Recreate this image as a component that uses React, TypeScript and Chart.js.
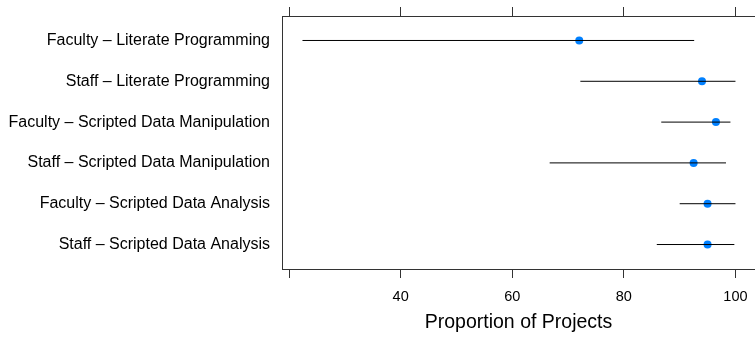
import React, { useEffect, useRef } from "react";
import { Chart, registerables } from "chart.js";

Chart.register(...registerables);

const categories = [
  "Faculty – Literate Programming",
  "Staff – Literate Programming",
  "Faculty – Scripted Data Manipulation",
  "Staff – Scripted Data Manipulation",
  "Faculty – Scripted Data Analysis",
  "Staff – Scripted Data Analysis",
];
const estimates = [72.0, 94.0, 96.5, 92.5, 95.0, 95.0];
const lowerBounds = [22.4, 72.2, 86.7, 66.7, 90.0, 85.9];
const upperBounds = [92.6, 100.0, 99.1, 98.3, 100.0, 99.8];
const xTicks = [20, 40, 60, 80, 100];
const xLabelledTicks = [40, 60, 80, 100];
const xTitle = "Proportion of Projects";

const FONT = "'Liberation Sans', Arial, Helvetica, sans-serif";
const AXIS = "#333333";

export default function App() {
  const ref = useRef<HTMLCanvasElement | null>(null);

  useEffect(() => {
    if (!ref.current) return;
    const intervalSets = categories.map((c, i) => ({
      type: "line" as const,
      label: c,
      data: [
        { x: lowerBounds[i], y: i + 1 },
        { x: upperBounds[i], y: i + 1 },
      ],
      showLine: true,
      borderColor: "#000000",
      borderWidth: 1,
      pointRadius: 0,
      fill: false,
      xAxisID: "x",
      yAxisID: "y",
    }));
    const pointSet = {
      type: "scatter" as const,
      label: "estimate",
      data: estimates.map((v, i) => ({ x: v, y: i + 1 })),
      pointRadius: 4,
      pointBackgroundColor: "#0080ff",
      pointBorderColor: "#0080ff",
      pointBorderWidth: 0,
      xAxisID: "x",
      yAxisID: "y",
    };

    const noPad = (s: any) => {
      s.paddingLeft = 0;
      s.paddingRight = 0;
      s.paddingTop = 0;
      s.paddingBottom = 0;
    };

    const chart = new Chart(ref.current, {
      type: "scatter",
      data: { datasets: [...intervalSets, pointSet] as any },
      options: {
        animation: false,
        responsive: false,
        maintainAspectRatio: false,
        layout: { padding: 0, autoPadding: false },
        plugins: {
          legend: { display: false },
          tooltip: { enabled: false },
        },
        font: { family: FONT },
        scales: {
          x: {
            type: "linear",
            position: "bottom",
            min: 18.73,
            max: 103.5,
            afterBuildTicks: (s: any) => {
              s.ticks = xTicks.map((v) => ({ value: v }));
            },
            afterFit: (s: any) => {
              s.height = 68;
              noPad(s);
            },
            ticks: {
              color: "#000",
              font: { family: FONT, size: 14.5 },
              padding: 10,
              maxRotation: 0,
              autoSkip: false,
              callback: (v: any) => (xLabelledTicks.includes(Number(v)) ? String(v) : ""),
            },
            grid: {
              display: true,
              drawOnChartArea: false,
              drawTicks: true,
              tickLength: 9,
              tickColor: AXIS,
              tickWidth: 1,
            },
            border: { display: true, color: AXIS, width: 1 },
            title: {
              display: true,
              text: xTitle,
              color: "#000",
              font: { family: FONT, size: 19.5 },
              padding: { top: 0, bottom: 3 },
            },
          },
          x2: {
            type: "linear",
            position: "top",
            min: 18.73,
            max: 103.5,
            afterBuildTicks: (s: any) => {
              s.ticks = xTicks.map((v) => ({ value: v }));
            },
            afterFit: (s: any) => {
              s.height = 16;
              noPad(s);
            },
            ticks: { display: false },
            grid: {
              display: true,
              drawOnChartArea: false,
              drawTicks: true,
              tickLength: 9,
              tickColor: AXIS,
              tickWidth: 1,
            },
            border: { display: true, color: AXIS, width: 1 },
          },
          y: {
            type: "linear",
            position: "left",
            min: 0.4,
            max: 6.6,
            reverse: true,
            afterBuildTicks: (s: any) => {
              s.ticks = categories.map((_, i) => ({ value: i + 1 }));
            },
            afterFit: (s: any) => {
              s.width = 282;
              noPad(s);
            },
            ticks: {
              color: "#000",
              font: { family: FONT, size: 16 },
              padding: 12,
              autoSkip: false,
              callback: (v: any) => categories[Number(v) - 1] ?? "",
            },
            grid: { display: false, drawTicks: false },
            border: { display: true, color: AXIS, width: 1 },
          },
        },
      } as any,
    });
    return () => chart.destroy();
  }, []);

  return (
    <div style={{ position: "absolute", left: 0, top: 0, width: 755, height: 337, background: "#fff" }}>
      <canvas ref={ref} width={755} height={337} style={{ display: "block", width: 755, height: 337 }} />
    </div>
  );
}
